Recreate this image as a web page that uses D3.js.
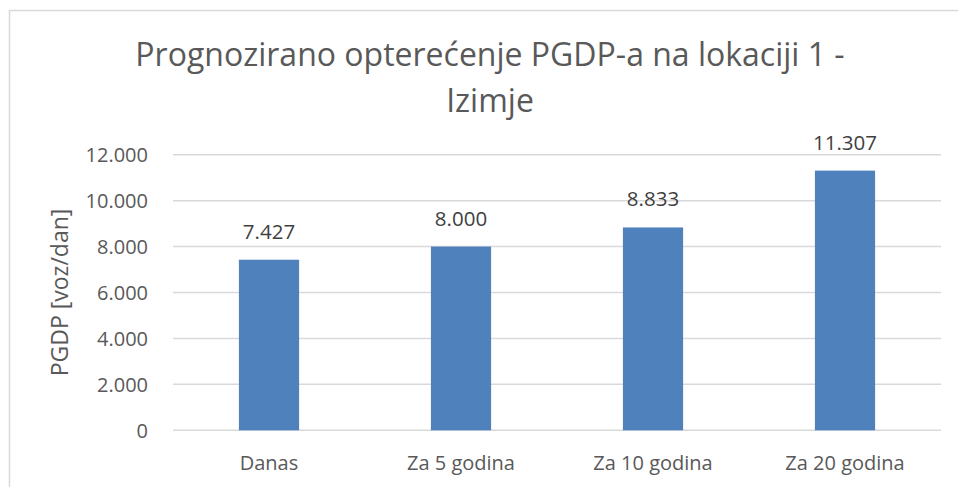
<!DOCTYPE html>
<html>
<head>
<meta charset="utf-8">
<script src="https://cdn.jsdelivr.net/npm/d3@7"></script>
<style>
  body { margin: 0; background: #fff; }
  text { font-family: "Open Sans", sans-serif; fill: #595959; }
</style>
</head>
<body>
<svg width="958" height="487"></svg>
<script>
const svg = d3.select("svg"),
    width = +svg.attr("width"),
    height = +svg.attr("height");

// data
const categories = ["Danas", "Za 5 godina", "Za 10 godina", "Za 20 godina"];
const values = [7427, 8000, 8833, 11307];
const yTicks = [0, 2000, 4000, 6000, 8000, 10000, 12000];
const titleLines = ["Prognozirano opterećenje PGDP-a na lokaciji 1 -", "Izimje"];
const yTitle = "PGDP [voz/dan]";

const margin = {left: 173, right: 17, top: 154.7, bottom: 56.7};

// thousands with a dot, like the original
const fmt = d => d3.format(",")(d).replace(/,/g, ".");

// chart frame (only left and top edges show)
svg.append("rect")
    .attr("x", 9.5).attr("y", 10.5)
    .attr("width", 1000).attr("height", 1000)
    .attr("fill", "none")
    .style("stroke", "#d9d9d9")
    .style("stroke-width", 1.5)

const x = d3.scaleBand()
    .domain(categories)
    .range([margin.left, width - margin.right])
    .paddingInner(0)

const y = d3.scaleLinear()
    .domain([0, 12000])
    .range([height - margin.bottom, margin.top])

// gridlines
svg.append("g")
    .selectAll("line")
    .data(yTicks)
    .join("line")
        .attr("x1", margin.left)
        .attr("x2", width - margin.right)
        .attr("y1", d => y(d))
        .attr("y2", d => y(d))
        .style("stroke", "#d9d9d9")
        .style("stroke-width", 1.5)

// y tick labels
svg.append("g")
    .selectAll("text")
    .data(yTicks)
    .join("text")
        .attr("x", 148)
        .attr("y", d => y(d))
        .attr("dy", "0.36em")
        .attr("text-anchor", "end")
        .style("font-size", "20px")
        .text(d => fmt(d))

// bars, Excel-like gap width
const barW = x.bandwidth() / 3.19;
svg.append("g")
    .selectAll("rect")
    .data(values)
    .join("rect")
        .attr("x", (d, i) => x(categories[i]) + x.bandwidth() / 2 - barW / 2)
        .attr("y", d => y(d))
        .attr("width", barW)
        .attr("height", d => y(0) - y(d))
        .attr("fill", "#4f81bd")

// value labels
svg.append("g")
    .selectAll("text")
    .data(values)
    .join("text")
        .attr("x", (d, i) => x(categories[i]) + x.bandwidth() / 2)
        .attr("y", d => y(d) - 21)
        .attr("text-anchor", "middle")
        .style("font-size", "20.5px")
        .style("fill", "#404040")
        .text(d => fmt(d))

// category labels
svg.append("g")
    .selectAll("text")
    .data(categories)
    .join("text")
        .attr("x", d => x(d) + x.bandwidth() / 2)
        .attr("y", 469.5)
        .attr("text-anchor", "middle")
        .style("font-size", "20px")
        .text(d => d)

// y axis title
svg.append("text")
    .attr("transform", `translate(68,${(y(0) + y(12000)) / 2}) rotate(-90)`)
    .attr("text-anchor", "middle")
    .style("font-size", "23px")
    .text(yTitle)

// title
svg.append("g")
    .selectAll("text")
    .data(titleLines)
    .join("text")
        .attr("x", 490)
        .attr("y", (d, i) => 66 + i * 45.7)
        .attr("text-anchor", "middle")
        .style("font-size", "32px")
        .text(d => d)
</script>
</body>
</html>
